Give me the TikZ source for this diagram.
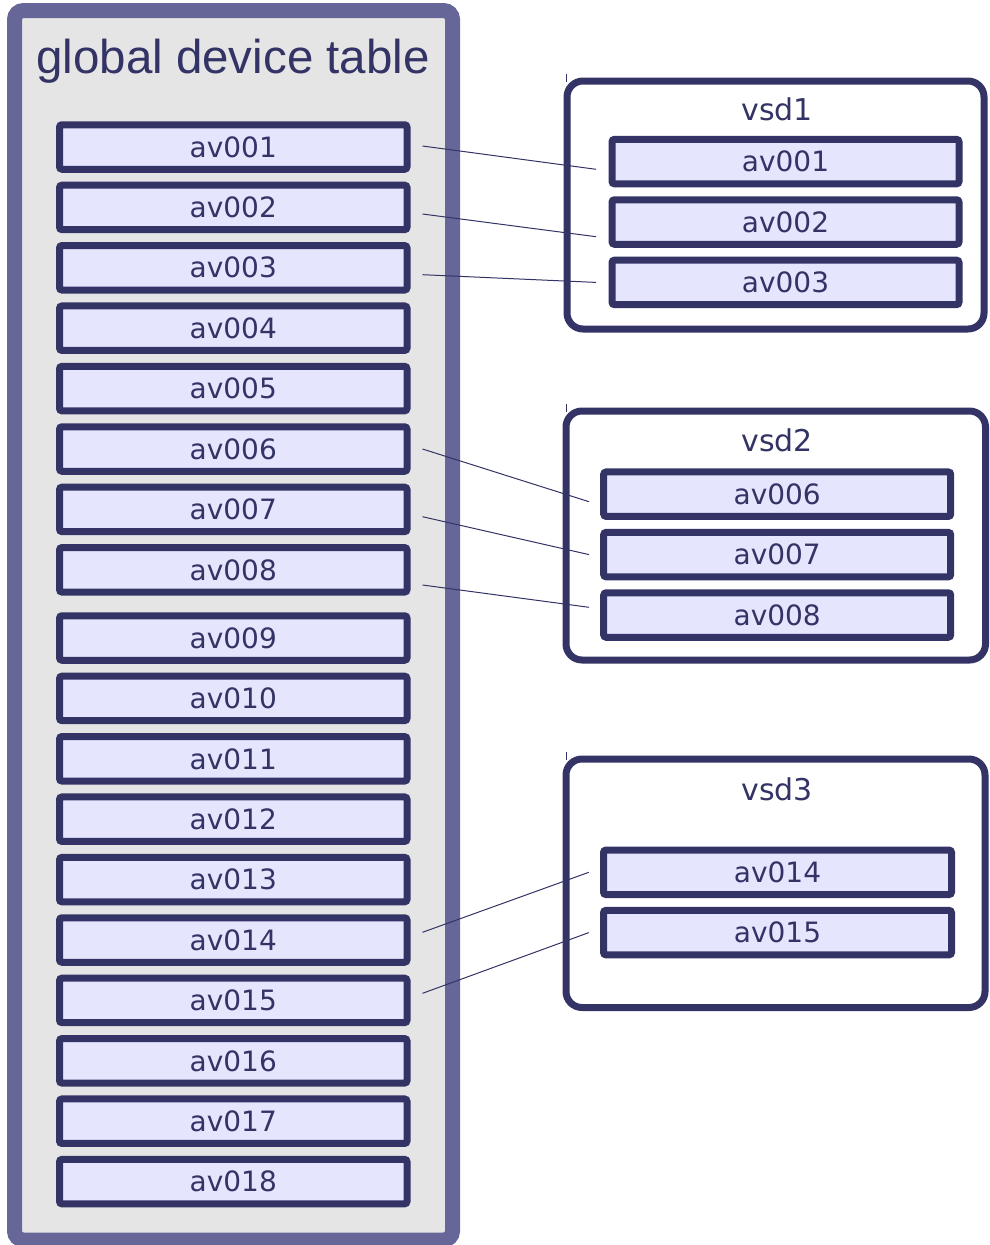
\documentclass[tikz,border=0pt]{standalone}
\usepackage{fontspec}
\setmainfont{DejaVu Sans}
\newfontfamily\titlefont{Liberation Sans}
\usetikzlibrary{calc}
\definecolor{ink}{HTML}{333366}
\definecolor{frame}{HTML}{666699}
\definecolor{panel}{HTML}{E5E5E5}
\definecolor{cell}{HTML}{E5E5FD}
\begin{document}
\begin{tikzpicture}[x=1pt,y=-1pt,
  devbox/.style={draw=ink, fill=cell, line width=7pt, rounded corners=2.5pt,
    minimum width=347.5pt, minimum height=44.5pt, inner sep=0pt, text=ink,
    font=\fontsize{28}{30}\selectfont},
  vsdbox/.style={draw=ink, fill=white, line width=7pt, rounded corners=16pt,
    inner sep=0pt},
  vsdlabel/.style={anchor=base, inner sep=0pt, text=ink,
    font=\fontsize{30}{32}\selectfont},
  link/.style={draw=ink, line width=1pt},
  tick/.style={draw=ink, line width=0.8pt}]
\useasboundingbox (0,0) rectangle (989,1245);

% global table panel
\draw[frame, fill=panel, line width=15pt, rounded corners=9pt]
  (14.5,10.5) rectangle (452.5,1240);
\node[anchor=base, inner sep=0pt, text=ink,
  font=\titlefont\fontsize{47.5}{50}\selectfont] (title) at (233,73.3)
  {global device table};

% entries of the global table
\foreach \n/\y in {001/147,002/207.4,003/267.8,004/328.2,005/388.6,006/449,
  007/509.4,008/569.8,009/638,010/698.4,011/758.8,012/819.2,013/879.6,
  014/940,015/1000.4,016/1060.8,017/1121.2,018/1181.6}
  \node[devbox] (g\n) at (233.25,\y) {av\n};

% virtual storage domains
\draw[tick] (566,74) -- (566,82);
\draw[tick] (566,404) -- (566,412);
\draw[tick] (566,752) -- (566,760);

\node[vsdbox, minimum width=417pt, minimum height=248pt] (vsd1) at (775.5,205) {};
\node[vsdlabel] (vsd1l) at (777,120) {vsd1};
\node[devbox, minimum width=347pt] (v001) at (785.5,161.6) {av001};
\node[devbox, minimum width=347pt] (v002) at (785.5,222) {av002};
\node[devbox, minimum width=347pt] (v003) at (785.5,282.4) {av003};

\node[vsdbox, minimum width=419.5pt, minimum height=249pt] (vsd2) at (775.75,535.5) {};
\node[vsdlabel] (vsd2l) at (777,451.7) {vsd2};
\node[devbox, minimum width=347pt] (v006) at (777.2,494.2) {av006};
\node[devbox, minimum width=347pt] (v007) at (777.2,554.6) {av007};
\node[devbox, minimum width=347pt] (v008) at (777.2,615) {av008};

\node[vsdbox, minimum width=419pt, minimum height=248.5pt] (vsd3) at (775.5,883.25) {};
\node[vsdlabel] (vsd3l) at (777,800) {vsd3};
\node[devbox, minimum width=348pt] (v014) at (777.5,872.3) {av014};
\node[devbox, minimum width=348pt] (v015) at (777.5,932.6) {av015};

% membership links
\draw[link] ([shift={(12,-1)}]g001.east) -- ([shift={(-12.5,7.7)}]v001.west);
\draw[link] ([shift={(12,6.6)}]g002.east) -- ([shift={(-12.5,14.7)}]v002.west);
\draw[link] ([shift={(12,6.9)}]g003.east) -- ([shift={(-12.5,0)}]v003.west);
\draw[link] ([shift={(12,0)}]g006.east) -- ([shift={(-11.2,7.5)}]v006.west);
\draw[link] ([shift={(12,7.3)}]g007.east) -- ([shift={(-11.2,0)}]v007.west);
\draw[link] ([shift={(12,15.2)}]g008.east) -- ([shift={(-11.2,-7.7)}]v008.west);
\draw[link] ([shift={(12,-7.7)}]g014.east) -- ([shift={(-11.2,0)}]v014.west);
\draw[link] ([shift={(12,-7.1)}]g015.east) -- ([shift={(-11.2,0)}]v015.west);
\end{tikzpicture}
\end{document}
